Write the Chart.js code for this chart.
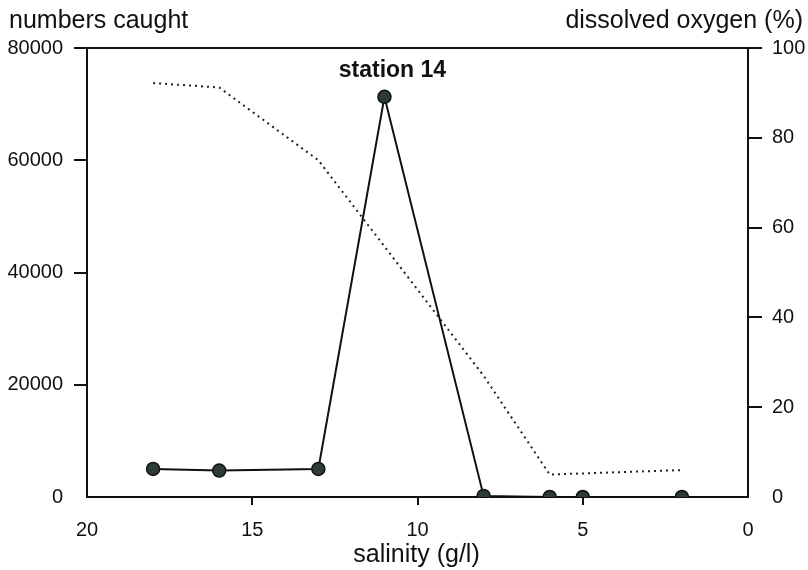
<!DOCTYPE html>
<html>
<head>
<meta charset="utf-8">
<script src="https://cdn.jsdelivr.net/npm/chart.js@4"></script>
<style>
  html, body { margin: 0; padding: 0; background: #fff; }
  #wrap { width: 808px; height: 570px; }
</style>
</head>
<body>
<div id="wrap"><canvas id="c" width="808" height="570"></canvas></div>
<script>
// ---- data ----
const salinityCaught = [18, 16, 13, 11, 8, 6, 5, 2];
const numbersCaught = [5000, 4700, 5000, 71300, 200, 0, 0, 0];
const salinityOxygen = [18, 16, 13, 8, 6, 2];
const oxygenPct = [92.2, 91.2, 75, 27, 5, 6];
const xTicks = [20, 15, 10, 5, 0];
const leftTicks = [0, 20000, 40000, 60000, 80000];
const rightTicks = [0, 20, 40, 60, 80, 100];
const peakLabel = 'station 14';
const peakIndex = 3;
const leftTitle = 'numbers caught';
const rightTitle = 'dissolved oxygen (%)';
const xTitle = 'salinity (g/l)';

const FONT = "'Liberation Sans', Arial, Helvetica, sans-serif";

const caughtPts = salinityCaught.map((s, i) => ({ x: s, y: numbersCaught[i] }));
const oxyPts = salinityOxygen.map((s, i) => ({ x: s, y: oxygenPct[i] }));

const textPlugin = {
  id: 'texts',
  afterDraw(chart) {
    const ctx = chart.ctx;
    const a = chart.chartArea;
    ctx.save();
    ctx.fillStyle = '#111';
    ctx.font = '25px ' + FONT;
    ctx.textBaseline = 'alphabetic';
    ctx.textAlign = 'left';
    ctx.fillText(leftTitle, 9, 28);
    ctx.textAlign = 'right';
    ctx.fillText(rightTitle, 803, 28);
    ctx.textAlign = 'center';
    ctx.fillText(xTitle, (a.left + a.right) / 2 - 1, 562);
    const meta = chart.getDatasetMeta(0);
    const p = meta.data[peakIndex];
    ctx.font = 'bold 23px ' + FONT;
    ctx.fillText(peakLabel, p.x + 8, p.y - 20);
    ctx.restore();
  }
};

const hideEnds = (vals) => (ctx) => (ctx.tick && vals.includes(ctx.tick.value)) ? 'rgba(0,0,0,0)' : '#111';

new Chart(document.getElementById('c'), {
  type: 'scatter',
  data: {
    datasets: [
      {
        label: 'numbers caught',
        data: caughtPts,
        showLine: true,
        borderColor: '#111',
        borderWidth: 2,
        pointRadius: 6.5,
        pointBackgroundColor: '#2c3c33',
        pointBorderColor: '#111',
        pointBorderWidth: 1.5,
        yAxisID: 'y',
        order: 1
      },
      {
        label: 'dissolved oxygen',
        data: oxyPts,
        showLine: true,
        borderColor: '#222',
        borderWidth: 2,
        borderDash: [2, 4],
        pointRadius: 0,
        yAxisID: 'y2',
        order: 2
      }
    ]
  },
  plugins: [textPlugin],
  options: {
    responsive: false,
    animation: false,
    layout: { padding: { top: 48, left: 0, right: 0, bottom: 0 } },
    plugins: { legend: { display: false }, tooltip: { enabled: false } },
    scales: {
      x: {
        type: 'linear',
        position: 'bottom',
        reverse: true,
        min: 0, max: 20,
        afterBuildTicks: (s) => { s.ticks = xTicks.map(v => ({ value: v })); },
        afterFit: (s) => { s.height = 73; },
        ticks: { color: '#111', font: { family: FONT, size: 20 }, padding: 13, maxRotation: 0 },
        grid: { drawOnChartArea: false, drawTicks: true, tickLength: 8, color: hideEnds([0, 20]), lineWidth: 2 },
        border: { display: true, color: '#111', width: 2 }
      },
      xTop: {
        type: 'linear',
        position: 'top',
        min: 0, max: 20,
        afterFit: (s) => { s.height = 0; },
        ticks: { display: false },
        grid: { display: false, drawTicks: false },
        border: { display: true, color: '#111', width: 2 }
      },
      y: {
        type: 'linear',
        position: 'left',
        min: 0, max: 80000,
        afterBuildTicks: (s) => { s.ticks = leftTicks.map(v => ({ value: v })); },
        afterFit: (s) => { s.width = 87; },
        ticks: { color: '#111', font: { family: FONT, size: 20 }, padding: 11, callback: (v) => String(v) },
        grid: { drawOnChartArea: false, drawTicks: true, tickLength: 13, color: hideEnds([0]), lineWidth: 2 },
        border: { display: true, color: '#111', width: 2 }
      },
      y2: {
        type: 'linear',
        position: 'right',
        min: 0, max: 100,
        afterBuildTicks: (s) => { s.ticks = rightTicks.map(v => ({ value: v })); },
        afterFit: (s) => { s.width = 60; },
        ticks: { color: '#111', font: { family: FONT, size: 20 }, padding: 10 },
        grid: { drawOnChartArea: false, drawTicks: true, tickLength: 14, color: hideEnds([0]), lineWidth: 2 },
        border: { display: true, color: '#111', width: 2 }
      }
    }
  }
});
</script>
</body>
</html>
